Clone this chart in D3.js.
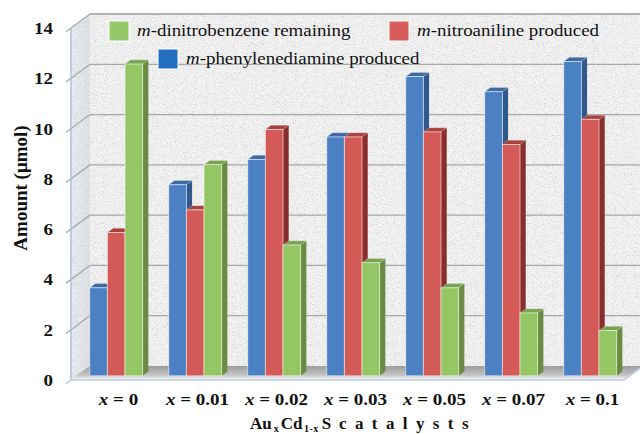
<!DOCTYPE html>
<html>
<head>
<meta charset="utf-8">
<script src="https://cdn.jsdelivr.net/npm/d3@7"></script>
<style>
  html, body { margin: 0; padding: 0; background: #ffffff; }
  svg { display: block; }
  text { font-family: "Liberation Serif", "Times New Roman", serif; fill: #111; }
</style>
</head>
<body>
<svg id="chart" width="640" height="434"></svg>
<script>
// Catalyst compositions (x in AuxCd1-xS)
const categories = ["0", "0.01", "0.02", "0.03", "0.05", "0.07", "0.1"];
// Amounts in µmol
const phenylenediamine = [3.5, 7.6, 8.6, 9.5, 11.9, 11.3, 12.5];
const nitroaniline     = [5.7, 6.6, 9.8, 9.5, 9.7, 9.2, 10.2];
const dinitrobenzene   = [12.4, 8.4, 5.2, 4.5, 3.5, 2.5, 1.8];
const yTicks = [0, 2, 4, 6, 8, 10, 12, 14];

const seriesNames = ["phenylenediamine", "nitroaniline", "dinitrobenzene"];
const seriesData = { phenylenediamine, nitroaniline, dinitrobenzene };
const palette = {
  phenylenediamine: { front: "#4b80c3", side: "#315a8c", top: "#3e6ba6", key: "#2470c0" },
  nitroaniline:     { front: "#d35a57", side: "#8a2e2d", top: "#a9413f", key: "#d75c5a" },
  dinitrobenzene:   { front: "#94c663", side: "#698b42", top: "#7aa351", key: "#95c868" }
};

const svg = d3.select("#chart");

// Oblique 3-D frame: front plane plus a depth vector pointing up-right
const depth = { dx: 19, dy: -14 };
const barDepthFront = 0.3, barDepthBack = 0.6;

const y = d3.scaleLinear().domain([0, 14]).range([380, 28]);
const x = d3.scaleBand().domain(categories).range([71, 624]).paddingInner(0).paddingOuter(0);
const inner = d3.scaleBand().domain(seriesNames)
  .range([x.bandwidth() * 0.165, x.bandwidth() * 0.835]).padding(0);

const left = x.range()[0], right = x.range()[1];
const path = pts => "M" + pts.map(p => p.join(",")).join("L") + "Z";

// ---- defs: wall texture, floor and side-wall gradients ----
const defs = svg.append("defs");
const grain = defs.append("filter").attr("id", "grain")
  .attr("x", 0).attr("y", 0).attr("width", 1).attr("height", 1);
grain.append("feTurbulence").attr("type", "fractalNoise")
  .attr("baseFrequency", 0.9).attr("numOctaves", 2).attr("seed", 7).attr("result", "noise");
grain.append("feColorMatrix").attr("in", "noise").attr("type", "matrix")
  .attr("values", "0 0 0 0 0.55  0 0 0 0 0.55  0 0 0 0 0.55  2.2 0 0 0 -1.05")
  .attr("result", "speck");
grain.append("feComposite").attr("in", "speck").attr("in2", "SourceGraphic")
  .attr("operator", "in").attr("result", "speckIn");
const gm = grain.append("feMerge");
gm.append("feMergeNode").attr("in", "SourceGraphic");
gm.append("feMergeNode").attr("in", "speckIn");

const floorGrad = defs.append("linearGradient").attr("id", "floorGrad")
  .attr("x1", 0).attr("y1", 0).attr("x2", 0).attr("y2", 1);
floorGrad.append("stop").attr("offset", "0%").attr("stop-color", "#9c9c9c");
floorGrad.append("stop").attr("offset", "70%").attr("stop-color", "#c4c4c4");
floorGrad.append("stop").attr("offset", "100%").attr("stop-color", "#eeeeee");

const sideGrad = defs.append("linearGradient").attr("id", "sideGrad")
  .attr("x1", 0).attr("y1", 0).attr("x2", 1).attr("y2", 0);
sideGrad.append("stop").attr("offset", "0%").attr("stop-color", "#e9edf2");
sideGrad.append("stop").attr("offset", "100%").attr("stop-color", "#dfe3e8");

// ---- walls ----
const y0 = y(0), yTop = y(14);
svg.append("path")
  .attr("d", path([[left + depth.dx, yTop + depth.dy], [right + depth.dx, yTop + depth.dy],
                   [right + depth.dx, y0 + depth.dy], [left + depth.dx, y0 + depth.dy]]))
  .attr("fill", "#f3f3f3").attr("filter", "url(#grain)");
svg.append("path")
  .attr("d", path([[left, yTop], [left + depth.dx, yTop + depth.dy],
                   [left + depth.dx, y0 + depth.dy], [left, y0]]))
  .attr("fill", "url(#sideGrad)").attr("filter", "url(#grain)");
// top edge of back wall
svg.append("line")
  .attr("x1", left + depth.dx).attr("x2", right + depth.dx)
  .attr("y1", yTop + depth.dy).attr("y2", yTop + depth.dy)
  .attr("stroke", "#c8c8c8").attr("stroke-width", 1.5);

// ---- gridlines on back and side walls ----
const grid = svg.append("g").attr("stroke", "#a8a8a8").attr("stroke-width", 1.3).attr("fill", "none");
yTicks.filter(t => t > 0).forEach(t => {
  grid.append("line")
    .attr("x1", left + depth.dx).attr("x2", right + depth.dx)
    .attr("y1", y(t) + depth.dy).attr("y2", y(t) + depth.dy);
  grid.append("line")
    .attr("x1", left - 5).attr("y1", y(t) + 14 * 5 / 19)
    .attr("x2", left + depth.dx).attr("y2", y(t) + depth.dy);
});

// ---- floor ----
svg.append("path")
  .attr("d", path([[left, y0 - 1], [left + depth.dx, y0 + depth.dy],
                   [right + depth.dx, y0 + depth.dy], [right, y0 - 1]]))
  .attr("fill", "url(#floorGrad)");

// ---- axes lines ----
svg.append("line").attr("x1", left).attr("x2", left).attr("y1", yTop).attr("y2", y0)
  .attr("stroke", "#a9c0dc").attr("stroke-width", 1.5);
svg.append("path")
  .attr("d", `M${left - 5},${y0 + 3.7}L${left},${y0}L${right},${y0}L${right + depth.dx},${y0 + depth.dy}`)
  .attr("fill", "none").attr("stroke", "#b9cbe2").attr("stroke-width", 1.5);

// ---- bars ----
const fx = depth.dx * barDepthFront, fy = depth.dy * barDepthFront;
const bx = depth.dx * (barDepthBack - barDepthFront), by = depth.dy * (barDepthBack - barDepthFront);
const bars = svg.append("g");
categories.forEach((cat, i) => {
  seriesNames.forEach(s => {
    const v = seriesData[s][i];
    const c = palette[s];
    const x0 = x(cat) + inner(s) + fx;
    const x1 = x0 + inner.bandwidth();
    const top = y(v) + fy;
    const bot = y(0) + fy;
    const g = bars.append("g");
    g.append("path").attr("d", path([[x1, top], [x1 + bx, top + by], [x1 + bx, bot + by], [x1, bot]]))
      .attr("fill", c.side);
    g.append("path").attr("d", path([[x0, top], [x0 + bx, top + by], [x1 + bx, top + by], [x1, top]]))
      .attr("fill", c.top).attr("stroke", "rgba(255,255,255,0.35)").attr("stroke-width", 0.6);
    g.append("rect").attr("x", x0).attr("y", top).attr("width", x1 - x0).attr("height", bot - top)
      .attr("fill", c.front).attr("stroke", "rgba(255,255,255,0.6)").attr("stroke-width", 0.9);
  });
});

// ---- y tick labels ----
svg.append("g").selectAll("text").data(yTicks).join("text")
  .attr("transform", d => `translate(53,${y(d) + 6}) scale(1.12,1)`)
  .attr("text-anchor", "end")
  .attr("font-size", 17).attr("font-weight", "bold")
  .text(d => d);

// ---- y axis title ----
svg.append("text")
  .attr("transform", "translate(27,188) rotate(-90)")
  .attr("text-anchor", "middle")
  .attr("font-size", 19).attr("font-weight", "bold")
  .text("Amount (μmol)");

// ---- x category labels ----
const xl = svg.append("g").selectAll("text").data(categories).join("text")
  .attr("transform", d => `translate(${x(d) + x.bandwidth() / 2 + 8},405) scale(1.12,1)`)
  .attr("text-anchor", "middle")
  .attr("font-size", 17).attr("font-weight", "bold");
xl.append("tspan").attr("font-style", "italic").text("x");
xl.append("tspan").text(d => " = " + d);

// ---- x axis title: AuxCd1-xS catalysts ----
const xt = svg.append("text")
  .attr("y", 429)
  .attr("font-size", 17).attr("font-weight", "bold");
xt.append("tspan").attr("x", 250).text("Au");
xt.append("tspan").attr("dx", 2).attr("font-size", 10).attr("dy", 3).text("x");
xt.append("tspan").attr("dx", 2).attr("dy", -3).text("Cd");
xt.append("tspan").attr("dx", 1.5).attr("font-size", 10).attr("dy", 3).attr("letter-spacing", 0.5).text("1-x");
xt.append("tspan").attr("dx", 3).attr("dy", -3).text("S");
xt.append("tspan").attr("x", 339).attr("letter-spacing", 8.4).text("catalysts");

// ---- legend ----
const legendItems = [
  { key: "dinitrobenzene", label: "-dinitrobenzene remaining", sx: 109, sy: 21 },
  { key: "nitroaniline", label: "-nitroaniline produced", sx: 389, sy: 21 },
  { key: "phenylenediamine", label: "-phenylenediamine produced", sx: 158, sy: 49 }
];
const lg = svg.append("g").selectAll("g").data(legendItems).join("g")
  .attr("transform", d => `translate(${d.sx},${d.sy})`);
lg.append("rect").attr("width", 20).attr("height", 20)
  .attr("fill", d => palette[d.key].key).attr("stroke", "#ffffff").attr("stroke-width", 1);
const lt = lg.append("text").attr("transform", "translate(28,15) scale(1.08,1)").attr("font-size", 17.5);
lt.append("tspan").attr("font-style", "italic").text("m");
lt.append("tspan").text(d => d.label);
</script>
</body>
</html>
